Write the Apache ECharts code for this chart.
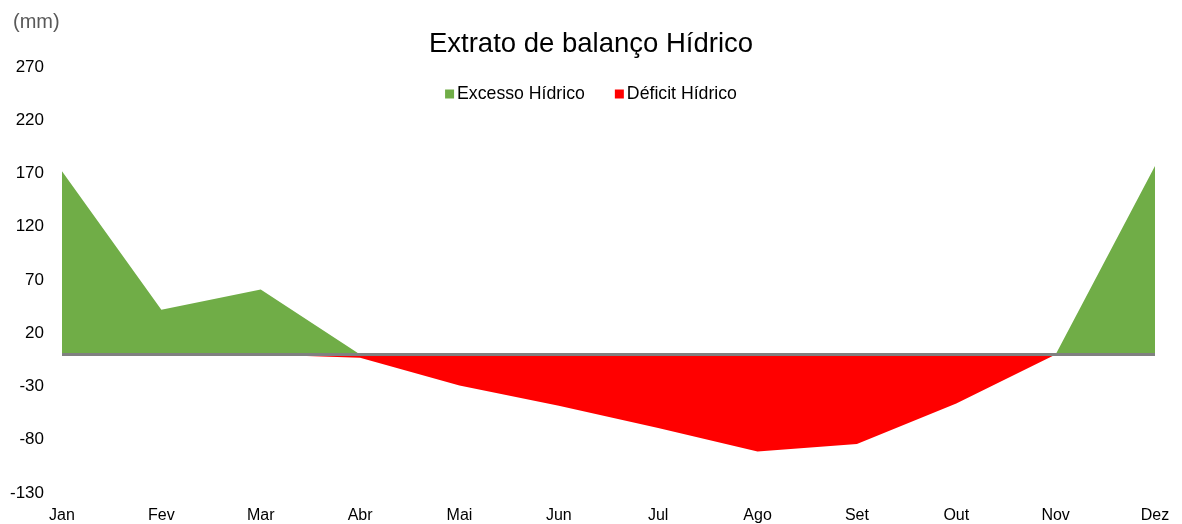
<!DOCTYPE html>
<html>
<head>
<meta charset="utf-8">
<script src="https://cdn.jsdelivr.net/npm/echarts@6/dist/echarts.min.js"></script>
<style>
  html, body { margin: 0; padding: 0; background: #fff; }
  #container { width: 1182px; height: 524px; }
</style>
</head>
<body>
<div id="container"></div>

<script type="text/javascript">
    var meses = ['Jan', 'Fev', 'Mar', 'Abr', 'Mai', 'Jun', 'Jul', 'Ago', 'Set', 'Out', 'Nov', 'Dez'];
    var excesso = [172, 42, 61, 0, 0, 0, 0, 0, 0, 0, 0, 177];
    var deficit = [0, 0, 0, -3, -29, -48, -69, -91, -84, -46, 0, 0];
    var zero = [0, 0, 0, 0, 0, 0, 0, 0, 0, 0, 0, 0];

    var fonte = '"Liberation Sans", Arial, sans-serif';

    var dom = document.getElementById("container");
    var myChart = echarts.init(dom);

    var option = {
        animation: false,
        title: {
            text: 'Extrato de balanço Hídrico',
            left: 'center',
            top: 25,
            textStyle: { fontFamily: fonte, fontSize: 27.5, fontWeight: 'normal', color: '#000' }
        },
        graphic: [{
            type: 'text',
            left: 13,
            top: 12,
            style: { text: '(mm)', font: '20px ' + fonte, fill: '#595959' }
        }],
        legend: {
            data: ['Excesso Hídrico', 'Déficit Hídrico'],
            top: 80,
            left: 'center',
            icon: 'rect',
            itemWidth: 9,
            itemHeight: 9,
            itemGap: 30,
            textStyle: { fontFamily: fonte, fontSize: 17.7, color: '#000', padding: [0, 0, 0, -2] }
        },
        grid: { left: 62, right: 27, top: 67, bottom: 28, containLabel: false },
        xAxis: {
            type: 'category',
            data: meses,
            boundaryGap: false,
            axisLine: { show: false },
            axisTick: { show: false },
            axisLabel: { fontFamily: fonte, fontSize: 16, color: '#000', margin: 15 },
            splitLine: { show: false }
        },
        yAxis: {
            type: 'value',
            min: -130,
            max: 270,
            interval: 50,
            axisLine: { show: false },
            axisTick: { show: false },
            axisLabel: { fontFamily: fonte, fontSize: 17, color: '#000', margin: 18 },
            splitLine: { show: false }
        },
        series: [{
            name: 'Excesso Hídrico',
            type: 'line',
            data: excesso,
            symbol: 'none',
            lineStyle: { width: 0 },
            itemStyle: { color: '#70AD47' },
            areaStyle: { color: '#70AD47', opacity: 1 },
            z: 2
        }, {
            name: 'Déficit Hídrico',
            type: 'line',
            data: deficit,
            symbol: 'none',
            lineStyle: { width: 0 },
            itemStyle: { color: '#FF0000' },
            areaStyle: { color: '#FF0000', opacity: 1 },
            z: 2
        }, {
            name: 'zero',
            type: 'line',
            data: zero,
            symbol: 'none',
            silent: true,
            lineStyle: { width: 3, color: '#808080' },
            z: 3
        }]
    };

    if (option && typeof option === 'object') {
        myChart.setOption(option);
    }
</script>
</body>
</html>
